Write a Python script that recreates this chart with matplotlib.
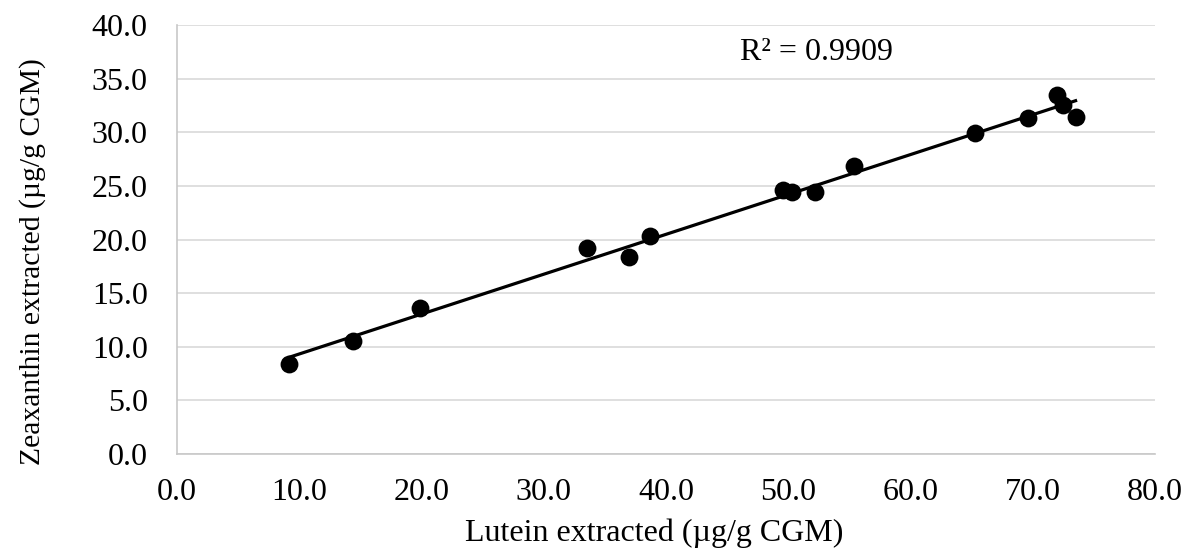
import numpy as np
import matplotlib.pyplot as plt

# lutein vs zeaxanthin extracted (ug/g CGM)
lutein = [9.2, 14.4, 19.9, 33.5, 37.0, 38.7, 49.6, 50.3, 52.2, 55.4, 65.3, 69.6, 72.0, 72.5, 73.5]
zeaxanthin = [8.4, 10.5, 13.6, 19.2, 18.4, 20.3, 24.6, 24.4, 24.4, 26.9, 29.9, 31.3, 33.5, 32.5, 31.4]
r_squared = 0.9909

plt.rcParams['font.family'] = ['Liberation Serif', 'DejaVu Serif']
fs = 23

fig = plt.figure(figsize=(11.86, 5.52), dpi=100)
ax = fig.add_axes([0.1492, 0.1775, 0.8247, 0.7772])

ax.scatter(lutein, zeaxanthin, s=165, color='black', zorder=3, linewidths=0)

# linear trendline over the data range
slope, intercept = np.polyfit(lutein, zeaxanthin, 1)
xs = np.array([min(lutein), max(lutein)])
ax.plot(xs, slope * xs + intercept, color='black', linewidth=2.3, zorder=4)

ax.text(52.3, 37.4, 'R² = {:.4f}'.format(r_squared), fontsize=fs, ha='center', va='center')

ax.set_xlim(0, 80)
ax.set_ylim(0, 40)
ax.set_xticks(np.arange(0, 81, 10))
ax.set_yticks(np.arange(0, 41, 5))
ax.xaxis.set_major_formatter(lambda v, p: '{:.1f}'.format(v))
ax.yaxis.set_major_formatter(lambda v, p: '{:.1f}'.format(v))
ax.tick_params(length=0, labelsize=fs)
ax.tick_params(axis='x', pad=17)
ax.tick_params(axis='y', pad=21)

ax.grid(axis='y', color='#d9d9d9', linewidth=1.2)
ax.set_axisbelow(True)
for side in ['top', 'right']:
    ax.spines[side].set_visible(False)
for side in ['left', 'bottom']:
    ax.spines[side].set_color('#c8c8c8')
    ax.spines[side].set_linewidth(1.2)

ax.set_xlabel('Lutein extracted (µg/g CGM)', fontsize=fs, va='center')
ax.set_ylabel('Zeaxanthin extracted (µg/g CGM)', fontsize=21.3, va='center')
ax.xaxis.set_label_coords(0.488, -0.184)
ax.yaxis.set_label_coords(-0.148, 0.449)

fig.savefig('out.png', dpi=100)
